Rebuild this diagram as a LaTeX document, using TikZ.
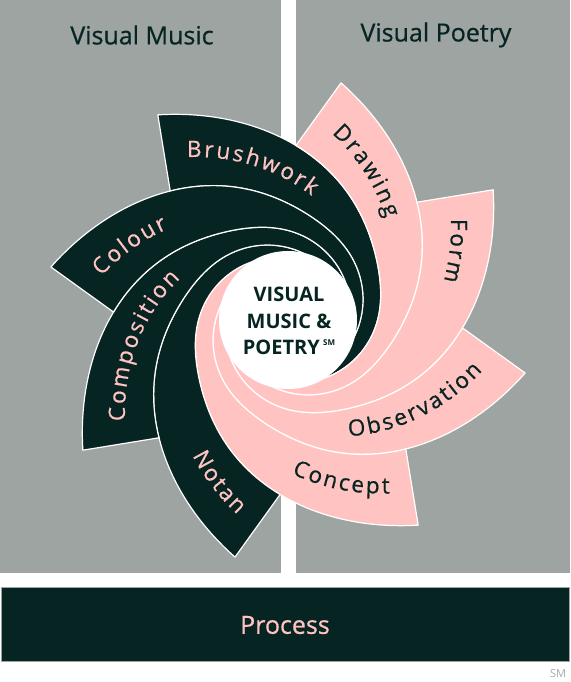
\documentclass[tikz,border=0pt]{standalone}
\usepackage{fontspec}
\setmainfont{Open Sans}
\newfontfamily\lblfamily[FakeBold=0.6]{Open Sans}
\usetikzlibrary{decorations.text}
\definecolor{panelgray}{HTML}{9DA4A2}
\definecolor{darkgreen}{HTML}{062422}
\definecolor{blush}{HTML}{FFC4C2}
\definecolor{smgray}{HTML}{A3A9A8}
% radius of a blade edge, psi degrees after its outer corner
\pgfmathdeclarefunction{spr}{1}{%
  \pgfmathparse{45+198*exp(-#1/84.7)-8*exp(-((#1-82)/35)*((#1-82)/35))}}
\tikzstyle{blade} = [draw=white, line width=1.2pt, line join=round]
\tikzstyle{title} = [font=\lblfamily\fontsize{25}{30}\selectfont, text=darkgreen]
\newcommand{\lblfont}{\lblfamily\fontsize{22.5}{23}\selectfont\kern2.4pt}

\begin{document}
\begin{tikzpicture}[x=1pt, y=1pt]
  \useasboundingbox (0,0) rectangle (570,682);
  % two panels and the process bar
  \fill[panelgray] (0,109) rectangle (281,682);
  \fill[panelgray] (296,109) rectangle (570,682);
  \node[title] (music) at (142,647) {Visual Music};
  \node[title] (poetry) at (436,647) {Visual Poetry};
  \filldraw[fill=darkgreen, draw=panelgray, line width=1pt] (1,20) rectangle (569,94);
  \node[title, text=blush] (process) at (285,57) {Process};
  \node[font=\fontsize{11}{11}\selectfont, text=smgray] (sm) at (558,8) {SM};

  \begin{scope}[shift={(288,362)}]
    % blades, clockwise from Brushwork
    \foreach \a/\col in {122.4/darkgreen, 77.4/blush, 32.4/blush, -12.6/blush,
                         -57.6/blush, -102.6/darkgreen, -147.6/darkgreen, -192.6/darkgreen}
      \filldraw[blade, fill=\col] plot[domain=0:230, samples=140] ({\a-\x}:{spr(\x)})
        -- plot[domain=275:35, samples=140] ({\a+45-\x}:{spr(\x)}) -- cycle;
    \fill[white] (0,0) circle (69);

    % labels reading clockwise
    \foreach \a/\txt/\col in {122.4/Brushwork/blush, 77.4/Drawing/darkgreen, 32.4/Form/darkgreen,
                              -147.6/Composition/blush, -192.6/Colour/blush}
      \path[decorate, decoration={text along path, text color=\col, text={|\lblfont|\txt}}]
        plot[domain=0:110, samples=90] ({\a-\x}:{(spr(\x)+spr(\x+45))/2-8});
    % labels reading counterclockwise
    \foreach \a/\txt/\col in {-12.6/Observation/darkgreen, -57.6/Concept/darkgreen, -102.6/Notan/blush}
      \path[decorate, decoration={text along path, text color=\col, text align=right,
                                  text={|\lblfont|\txt}}]
        plot[domain=110:2, samples=90] ({\a-\x}:{(spr(\x)+spr(\x+45))/2+4});
  \end{scope}
  \node[align=center, font=\bfseries\fontsize{20}{26.7}\selectfont, text=darkgreen] (core) at (289,361)
    {VISUAL\\MUSIC \&\\POETRY\,\raisebox{0.9ex}{\fontsize{8}{8}\selectfont SM}};
\end{tikzpicture}
\end{document}
